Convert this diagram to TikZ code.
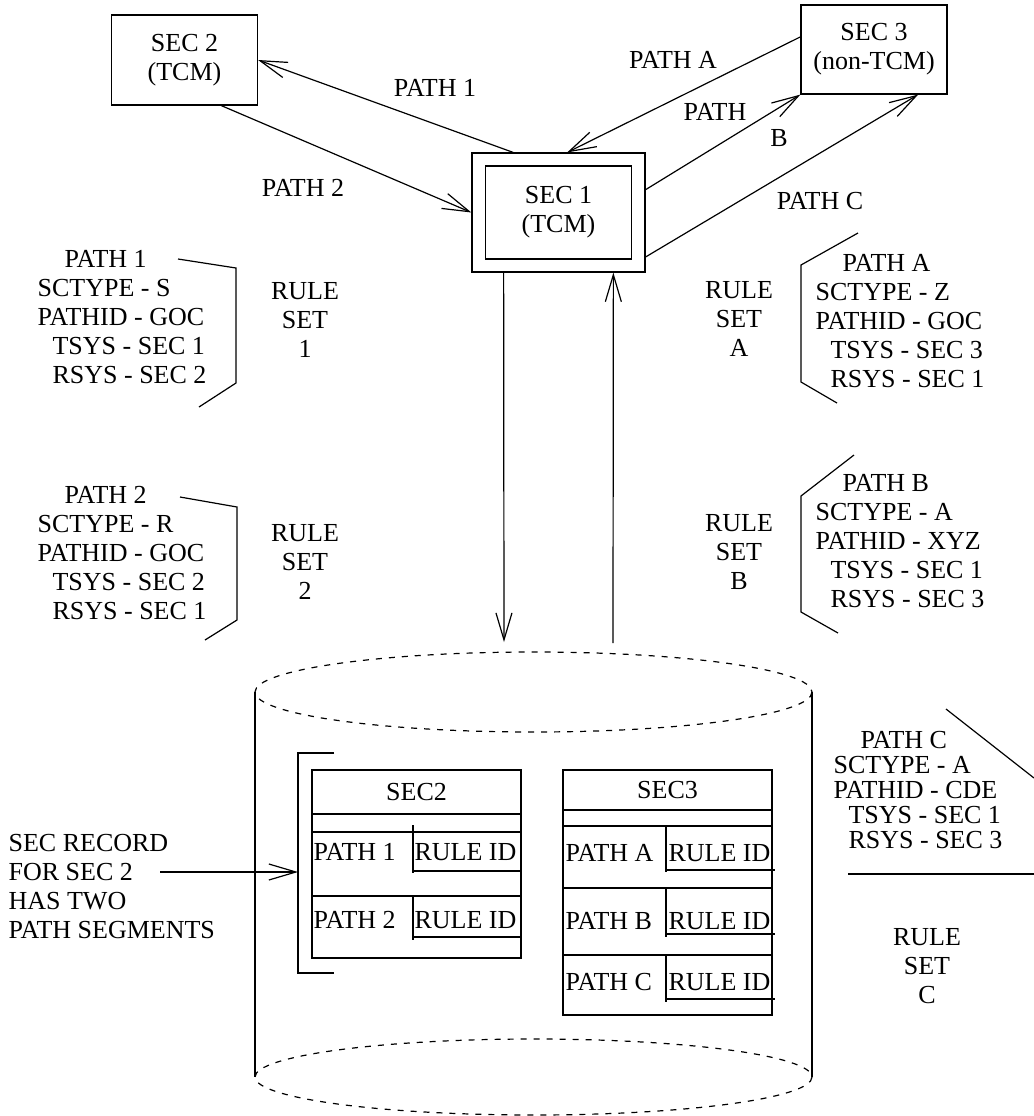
\documentclass[tikz,border=0pt]{standalone}
\usepackage{fontspec}
\setmainfont{Liberation Serif}
\usetikzlibrary{arrows.meta,calc}
\newcommand{\pathind}{\hspace*{13.5pt}}
\newcommand{\sysind}{\hspace*{7.5pt}}

\begin{document}
\begin{tikzpicture}[x=0.5pt, y=-0.5pt, line width=0.6pt,
    every node/.style={font=\fontsize{13}{14.5}\selectfont, inner sep=0pt},
    >={Straight Barb[length=13.5pt,width=8pt]}]
    \tikzset{secbox/.style={draw,align=center,minimum width=73pt,minimum height=45pt},
      ruletext/.style={anchor=west,align=left},
      ruletextc/.style={anchor=west,align=left,font=\fontsize{13}{12.5}\selectfont},
      rulelabel/.style={align=center},
      dbedge/.style={dash pattern=on 3pt off 3.5pt}}
    \useasboundingbox (0,0) rectangle (1034,1116);

    % systems
    \node[secbox] (sec2) at (184.5,60) {SEC 2\\(TCM)};
    \node[secbox,minimum height=44.5pt] (sec3) at (874,49.5) {SEC 3\\(non-TCM)};
    \node[draw,minimum width=86.5pt,minimum height=59.5pt] (sec1o) at (558.5,212.5) {};
    \node[secbox,minimum height=46.5pt] (sec1) at (558.5,212.5) {SEC 1\\(TCM)};

    \coordinate (p1s) at ($(sec1o.north west)!0.24!(sec1o.north east)$);
    \coordinate (pae) at ($(sec1o.north west)!0.55!(sec1o.north east)$);
    \coordinate (pbs) at ($(sec1o.north east)!0.31!(sec1o.south east)$);
    \coordinate (pcs) at ($(sec1o.north east)!0.87!(sec1o.south east)$);
    \coordinate (p2s) at ($(sec2.south)!0.5!(sec2.south east)$);
    \coordinate (pas) at ($(sec3.north west)!0.36!(sec3.south west)$);
    \coordinate (pce) at ($(sec3.south west)!0.8!(sec3.south east)$);
    \coordinate (dn) at ($(sec1o.south west)!0.185!(sec1o.south east)$);
    \coordinate (up) at ($(sec1o.south west)!0.815!(sec1o.south east)$);
    \coordinate (dbin) at (504,642);
    \coordinate (dbout) at (613,643);

    \draw[->] (p1s) -- (sec2.east);
    \draw[->] (p2s) -- (sec1o.west);
    \draw[->] (pas) -- (pae);
    \draw[->] (pbs) -- (sec3.south west);
    \draw[->] (pcs) -- (pce);
    \draw[->] (dn) -- (dbin);
    \draw[->] (dbout) -- (up);

    \node (lp1) at (435,88) {PATH 1};
    \node (lp2) at (303,188) {PATH 2};
    \node (lpa) at (673,60) {PATH A};
    \node (lpb) at (715,112) {PATH};
    \node (lpbb) at (779,138) {B};
    \node (lpc) at (820,201) {PATH C};

    % rule sets
    \node[ruletext] (rs1) at (37,317) {\pathind PATH 1\\SCTYPE - S\\PATHID - GOC\\\sysind TSYS - SEC 1\\\sysind RSYS - SEC 2};
    \node[rulelabel] (rl1) at (305,320) {RULE\\SET\\1};
    \draw (178,259) -- (236,268) -- (236,383) -- (199,407);

    \node[ruletext] (rs2) at (37,553) {\pathind PATH 2\\SCTYPE - R\\PATHID - GOC\\\sysind TSYS - SEC 2\\\sysind RSYS - SEC 1};
    \node[rulelabel] (rl2) at (305,562) {RULE\\SET\\2};
    \draw (180,497) -- (237,507) -- (237,620) -- (205,640);

    \node[ruletext] (rsa) at (815,321) {\pathind PATH A\\SCTYPE - Z\\PATHID - GOC\\\sysind TSYS - SEC 3\\\sysind RSYS - SEC 1};
    \node[rulelabel] (rla) at (739,319) {RULE\\SET\\A};
    \draw (858,233) -- (801,265) -- (801,382) -- (837,403);

    \node[ruletext] (rsb) at (815,541) {\pathind PATH B\\SCTYPE - A\\PATHID - XYZ\\\sysind TSYS - SEC 1\\\sysind RSYS - SEC 3};
    \node[rulelabel] (rlb) at (739,552) {RULE\\SET\\B};
    \draw (854,455) -- (801,496) -- (801,612) -- (838,633);

    \node[ruletextc] (rsc) at (833,790) {\pathind PATH C\\SCTYPE - A\\PATHID - CDE\\\sysind TSYS - SEC 1\\\sysind RSYS - SEC 3};
    \node[rulelabel] (rlc) at (927,966) {RULE\\SET\\C};
    \draw (946,709) -- (1034,778);
    \draw (848,874) -- (1034,874);

    % data base
    \draw[dbedge] (533.5,692) ellipse [x radius=278.5, y radius=40];
    \draw[dbedge] (533.5,1077) ellipse [x radius=278.5, y radius=38];
    \draw (255,692) -- (255,1077);
    \draw (812,692) -- (812,1077);

    % SEC2 record
    \draw (312,770) rectangle (521,958);
    \draw (312,814) -- (521,814) (312,832) -- (521,832) (312,896) -- (521,896);
    \draw (413,825) -- (413,873) (413,871) -- (521,871);
    \draw (413,895) -- (413,940) (413,937) -- (521,937);
    \node (t2h) at (416.5,792) {SEC2};
    \node[anchor=west] (t2p1) at (313,852) {PATH 1};
    \node[anchor=west] (t2r1) at (414,852) {RULE ID};
    \node[anchor=west] (t2p2) at (313,920) {PATH 2};
    \node[anchor=west] (t2r2) at (414,920) {RULE ID};
    \draw (334,753) -- (298,753) -- (298,973) -- (334,973);

    % SEC3 record
    \draw (563,770) rectangle (772,1015);
    \draw (563,810) -- (772,810) (563,826) -- (772,826) (563,888) -- (772,888) (563,955) -- (772,955);
    \draw (666,826) -- (666,872) (666,870) -- (775,870);
    \draw (666,889) -- (666,937) (666,934) -- (775,934);
    \draw (666,955) -- (666,1002) (666,999) -- (775,999);
    \node (t3h) at (667.5,790) {SEC3};
    \node[anchor=west] (t3pa) at (565,853) {PATH A};
    \node[anchor=west] (t3ra) at (668,853) {RULE ID};
    \node[anchor=west] (t3pb) at (565,921) {PATH B};
    \node[anchor=west] (t3rb) at (668,921) {RULE ID};
    \node[anchor=west] (t3pc) at (565,982) {PATH C};
    \node[anchor=west] (t3rc) at (668,982) {RULE ID};

    \node[anchor=west,align=left] (rec) at (8,887) {SEC RECORD\\FOR SEC 2\\HAS TWO\\PATH SEGMENTS};
    \coordinate (recs) at (160,872);
    \coordinate (brk) at (298,872);
    \draw[->] (recs) -- (brk);
  \end{tikzpicture}
\end{document}
